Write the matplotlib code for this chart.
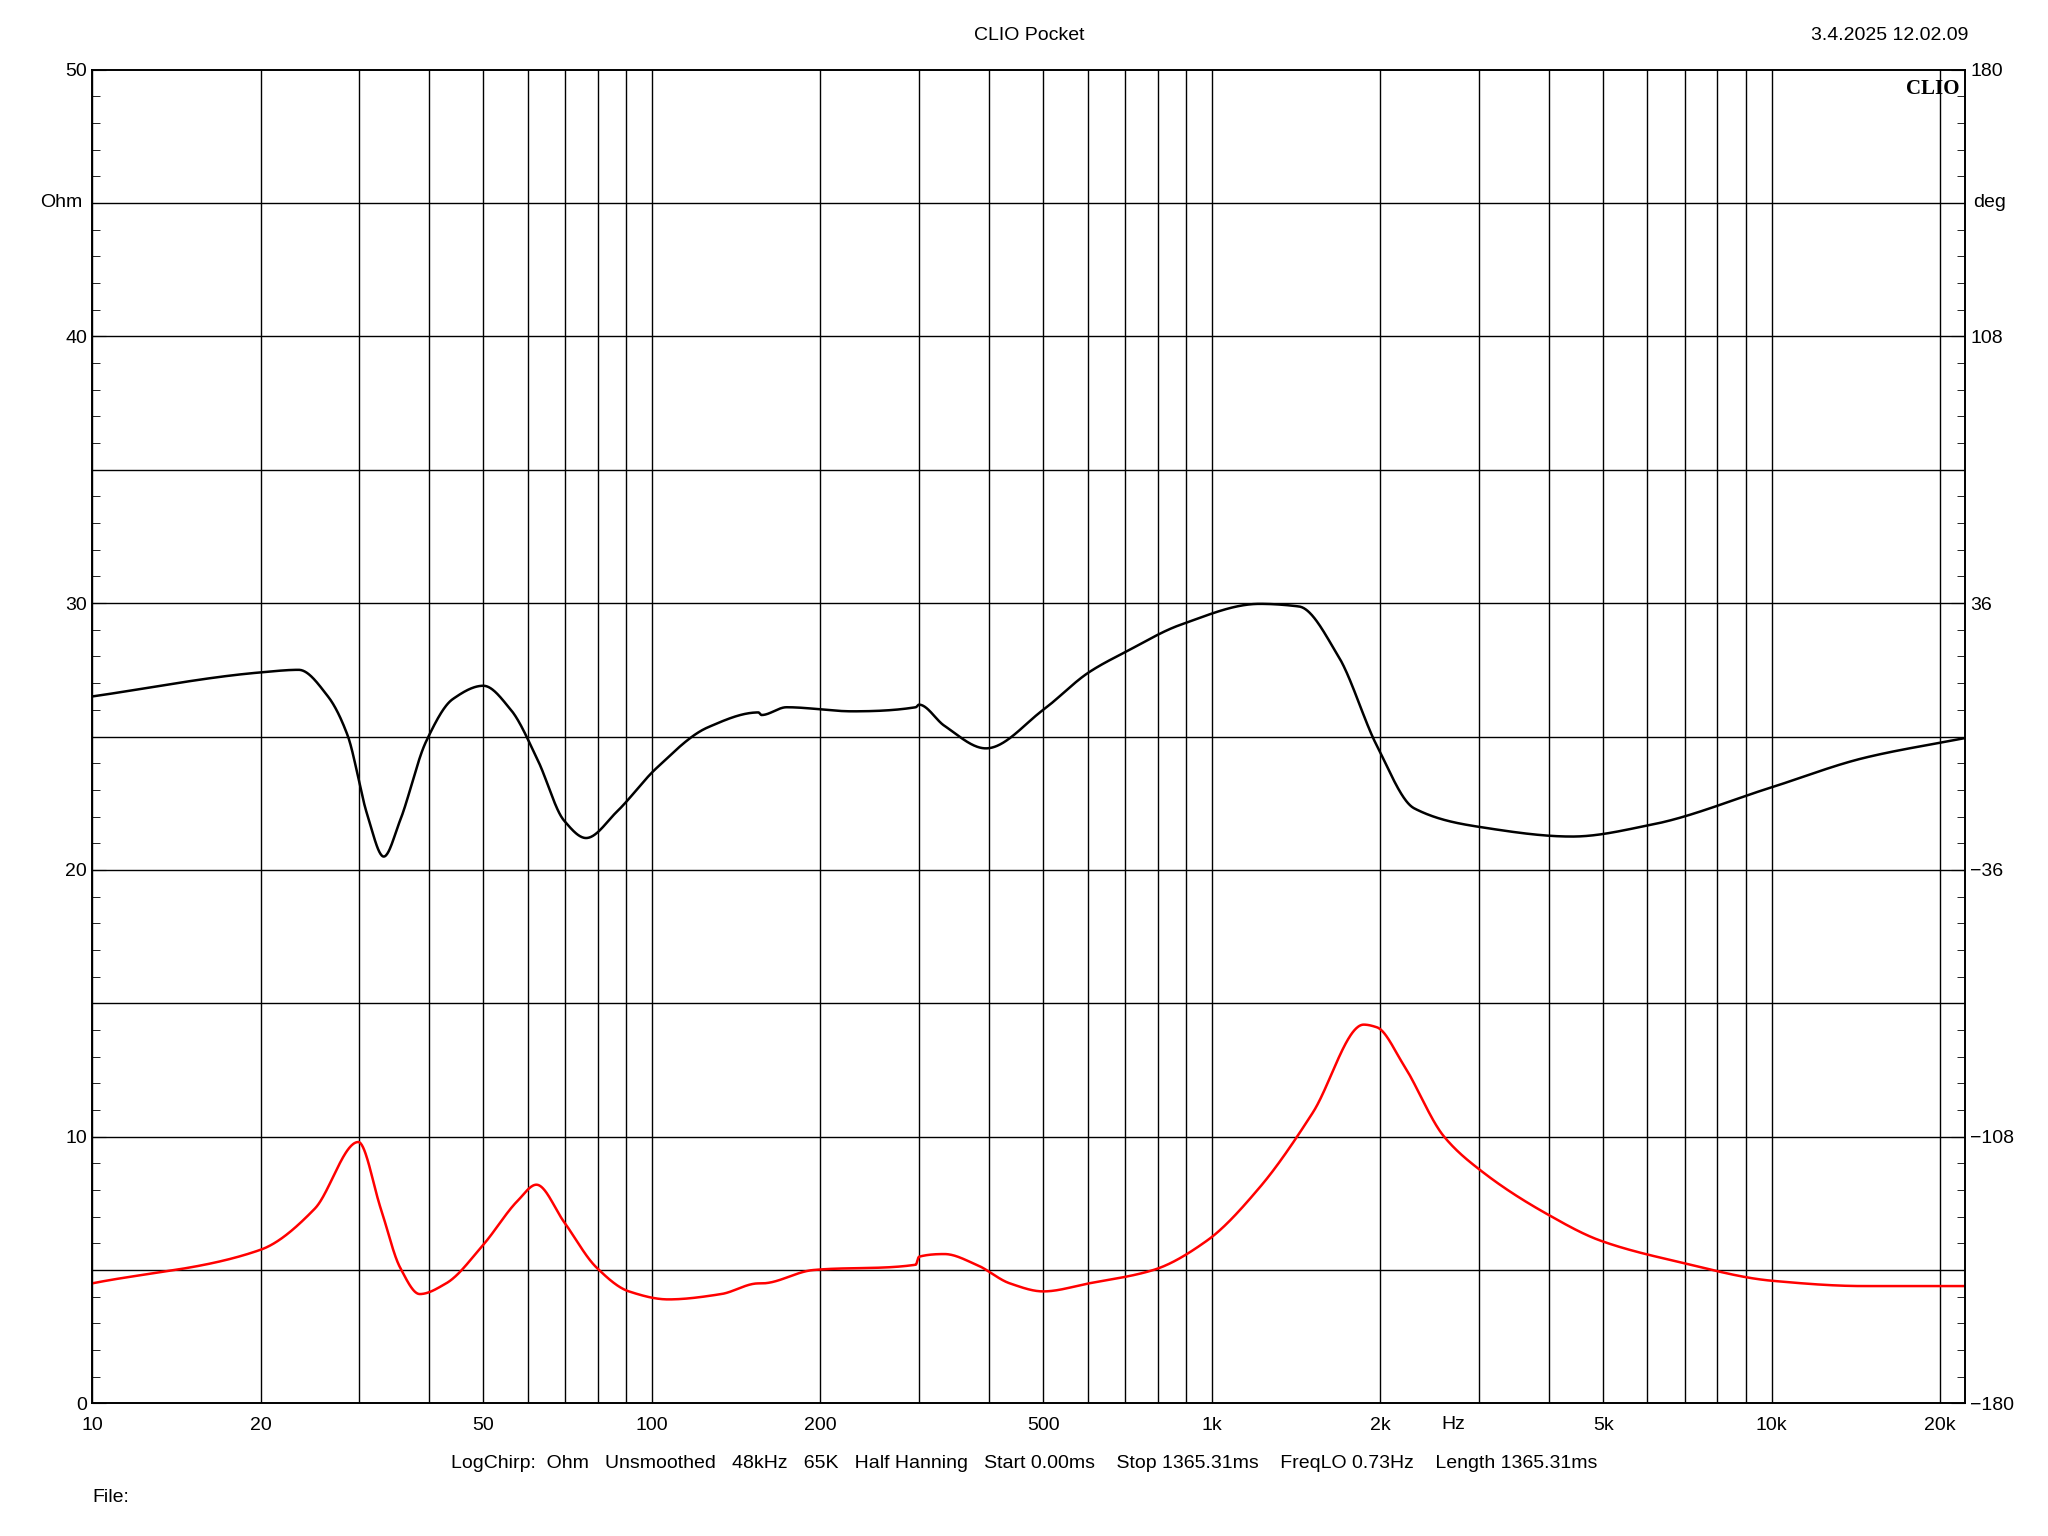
import numpy as np
import matplotlib
matplotlib.use("Agg")
import matplotlib.pyplot as plt
from matplotlib.ticker import FixedLocator, NullFormatter

# Impedance (red), Ohm
imp_freq = [10, 20, 25, 29.9, 32.8, 35.5, 38.5, 42.9, 50, 57.6, 62.2, 69.7, 79.6, 91, 107, 133, 155, 157,
            194, 296, 300, 333, 380, 436, 500, 603, 786, 980, 1218, 1515, 1868, 1972, 2200, 2600, 3036,
            3970, 4950, 6840, 10000, 14600, 22170]
imp_ohm = [4.5, 5.76, 7.3, 9.8, 7.3, 5.1, 4.1, 4.5, 5.95, 7.6, 8.2, 6.8, 5.1, 4.2, 3.9, 4.1, 4.5, 4.5,
           5.0, 5.2, 5.5, 5.6, 5.2, 4.5, 4.2, 4.5, 5.0, 6.1, 8.1, 10.9, 14.2, 14.1, 12.7, 10.0, 8.7,
           7.1, 6.1, 5.3, 4.6, 4.4, 4.4]

# Phase (black), degrees
ph_freq = [10, 20, 23.4, 26.4, 28.6, 31, 33.2, 35.5, 39.5, 44.1, 50, 56, 62.6, 69.7, 76.3, 86.7, 101.8,
           126, 155, 157, 174, 228, 296, 300, 333, 395, 500, 603, 705, 881, 1218, 1431, 1684, 1972,
           2300, 3036, 4400, 6100, 10000, 14600, 22170]
ph_deg = [10.8, 17.3, 18, 10.8, 0.4, -20.9, -32.4, -22.7, -1.4, 10.1, 13.7, 7.2, -6.5, -22.7, -27.4,
          -20.2, -8.6, 2.5, 6.5, 5.8, 7.9, 6.8, 7.9, 8.6, 2.9, -3.2, 7.2, 17.3, 23, 30.2, 35.8, 35.1,
          21.6, -2.5, -19.4, -24.5, -27, -23.8, -13.7, -5.8, -0.4]

x_ticks = [10, 20, 50, 100, 200, 500, 1000, 2000, 5000, 10000, 20000]
x_labels = ["10", "20", "50", "100", "200", "500", "1k", "2k", "5k", "10k", "20k"]
left_ticks = [0, 10, 20, 30, 40, 50]
right_ticks = [-180, -108, -36, 36, 108, 180]


def pchip(x, y, xn):
    x = np.asarray(x, float); y = np.asarray(y, float)
    h = np.diff(x); d = np.diff(y) / h
    m = np.zeros_like(y)
    for k in range(1, len(x) - 1):
        if d[k - 1] * d[k] > 0:
            w1 = 2 * h[k] + h[k - 1]; w2 = h[k] + 2 * h[k - 1]
            m[k] = (w1 + w2) / (w1 / d[k - 1] + w2 / d[k])
    m[0] = d[0]; m[-1] = d[-1]
    idx = np.clip(np.searchsorted(x, xn) - 1, 0, len(x) - 2)
    t = (xn - x[idx]) / h[idx]
    h00 = 2*t**3 - 3*t**2 + 1; h10 = t**3 - 2*t**2 + t
    h01 = -2*t**3 + 3*t**2; h11 = t**3 - t**2
    return h00*y[idx] + h10*h[idx]*m[idx] + h01*y[idx+1] + h11*h[idx]*m[idx+1]


def smooth(f, v):
    lf = np.log10(f)
    xs = np.linspace(lf[0], lf[-1], 3000)
    return 10**xs, pchip(lf, v, xs)


plt.rcParams['font.family'] = ['Arial', 'Liberation Sans', 'DejaVu Sans']
fig = plt.figure(figsize=(20.48, 15.36), dpi=100)
ax = fig.add_axes([0.0449, 0.0863, 0.9147, 0.8684])
ax.set_xscale('log')
ax.set_xlim(10, 22170)
ax.set_ylim(0, 50)

grid_f = [m * 10**e for e in range(1, 5) for m in range(1, 10) if m * 10**e <= 22000]
for f in grid_f:
    ax.axvline(f, color='black', lw=1.0)
for y in range(5, 50, 5):
    ax.axhline(y, color='black', lw=1.0)

ax.xaxis.set_major_locator(FixedLocator(x_ticks))
ax.set_xticklabels(x_labels)
ax.xaxis.set_minor_formatter(NullFormatter())
ax.tick_params(axis='x', which='both', length=0, labelsize=14, pad=10)
ax.set_yticks(left_ticks)
ax.set_yticks(range(0, 51), minor=True)
ax.tick_params(axis='y', which='major', length=10, labelsize=14, direction='in')
ax.tick_params(axis='y', which='minor', length=6, direction='in')

fx, fy = smooth(imp_freq, imp_ohm)
ax.plot(fx, fy, color='red', lw=1.8)

ax2 = ax.twinx()
ax2.set_ylim(-180, 180)
ax2.set_yticks(right_ticks)
ax2.set_yticks(np.arange(-180, 181, 7.2), minor=True)
ax2.tick_params(axis='y', which='major', length=10, labelsize=14, direction='in')
ax2.tick_params(axis='y', which='minor', length=6, direction='in')
px, py = smooth(ph_freq, ph_deg)
ax2.plot(px, py, color='black', lw=1.8)

for a in (ax, ax2):
    for s in a.spines.values():
        s.set_linewidth(1.2)

ax.text(-0.005, 45, "Ohm", transform=ax.get_yaxis_transform(), ha='right', va='center', fontsize=14)
ax2.text(1.004, 45 / 50, "deg", transform=ax.transAxes, ha='left', va='center', fontsize=14)
ax.text(2700, -0.0095, "Hz", transform=ax.get_xaxis_transform(), ha='center', va='top', fontsize=14)
ax.text(0.997, 0.993, "CLIO", transform=ax.transAxes, ha='right', va='top', fontsize=15,
        fontweight='bold', family=['Liberation Serif', 'DejaVu Serif'])

fig.text(0.5027, 0.977, "CLIO Pocket", ha='center', va='center', fontsize=14)
fig.text(0.961, 0.977, "3.4.2025 12.02.09", ha='right', va='center', fontsize=14)
fig.text(0.5, 0.047, "LogChirp:  Ohm   Unsmoothed   48kHz   65K   Half Hanning   Start 0.00ms    Stop 1365.31ms    FreqLO 0.73Hz    Length 1365.31ms",
         ha='center', va='center', fontsize=14)
fig.text(0.0449, 0.025, "File:", ha='left', va='center', fontsize=14)

fig.savefig("out.png", dpi=100, facecolor='white')
